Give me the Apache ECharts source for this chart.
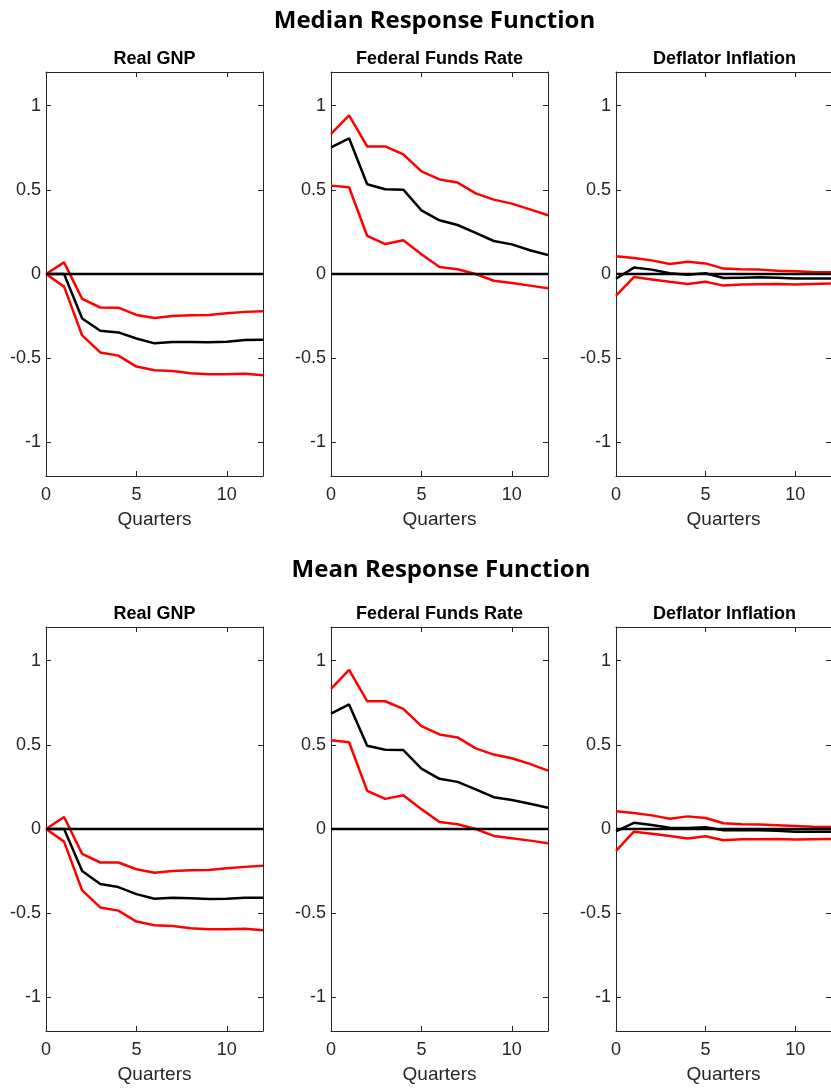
<!DOCTYPE html>
<html>
<head>
<meta charset="utf-8">
<script src="https://cdn.jsdelivr.net/npm/echarts@6/dist/echarts.min.js"></script>
<style>
	html, body { margin: 0; padding: 0; background: #fff; }
	#chart { width: 831px; height: 1089px; }
</style>
</head>
<body>
<div id="chart"></div>
<script>
var quarters = [0, 1, 2, 3, 4, 5, 6, 7, 8, 9, 10, 11, 12];
var xTicks = [0, 5, 10];
var yTicks = [-1, -0.5, 0, 0.5, 1];
var panelTitles = ["Real GNP", "Federal Funds Rate", "Deflator Inflation"];
var sectionTitles = ["Median Response Function", "Mean Response Function"];
var zeroLine = [0, 0, 0, 0, 0, 0, 0, 0, 0, 0, 0, 0, 0];

// median response
var medGnp = [0, 0, -0.264, -0.337, -0.347, -0.383, -0.412, -0.404, -0.404, -0.406, -0.402, -0.392, -0.39];
var medGnpUp = [0, 0.069, -0.148, -0.199, -0.2, -0.243, -0.262, -0.25, -0.245, -0.243, -0.233, -0.225, -0.221];
var medGnpLo = [0, -0.075, -0.365, -0.466, -0.485, -0.55, -0.572, -0.576, -0.59, -0.596, -0.596, -0.592, -0.602];
var medFfr = [0.752, 0.806, 0.533, 0.503, 0.501, 0.378, 0.319, 0.291, 0.244, 0.196, 0.176, 0.141, 0.113];
var medFfrUp = [0.832, 0.943, 0.758, 0.758, 0.711, 0.61, 0.562, 0.543, 0.479, 0.442, 0.418, 0.384, 0.349];
var medFfrLo = [0.525, 0.515, 0.226, 0.178, 0.2, 0.117, 0.042, 0.028, 0, -0.04, -0.053, -0.069, -0.085];
var medInf = [-0.028, 0.038, 0.026, 0.004, -0.004, 0.004, -0.024, -0.022, -0.02, -0.022, -0.026, -0.026, -0.026];
var medInfUp = [0.105, 0.095, 0.081, 0.059, 0.073, 0.063, 0.032, 0.028, 0.026, 0.02, 0.016, 0.012, 0.01];
var medInfLo = [-0.129, -0.018, -0.032, -0.046, -0.059, -0.046, -0.069, -0.063, -0.061, -0.059, -0.063, -0.059, -0.057];

// mean response
var meanGnp = [0, 0, -0.25, -0.327, -0.345, -0.387, -0.414, -0.408, -0.412, -0.416, -0.414, -0.408, -0.408];
var meanGnpUp = [0, 0.071, -0.148, -0.199, -0.199, -0.239, -0.26, -0.25, -0.245, -0.243, -0.233, -0.225, -0.219];
var meanGnpLo = [0, -0.075, -0.365, -0.466, -0.485, -0.55, -0.572, -0.576, -0.59, -0.596, -0.596, -0.592, -0.602];
var meanFfr = [0.686, 0.74, 0.495, 0.471, 0.469, 0.359, 0.298, 0.28, 0.235, 0.189, 0.172, 0.15, 0.126];
var meanFfrUp = [0.832, 0.945, 0.759, 0.759, 0.714, 0.611, 0.562, 0.544, 0.479, 0.442, 0.42, 0.387, 0.347];
var meanFfrLo = [0.527, 0.515, 0.227, 0.179, 0.201, 0.118, 0.041, 0.028, 0, -0.041, -0.055, -0.069, -0.085];
var meanInf = [-0.014, 0.037, 0.024, 0.008, 0.006, 0.01, -0.008, -0.008, -0.008, -0.01, -0.016, -0.016, -0.016];
var meanInfUp = [0.105, 0.095, 0.081, 0.061, 0.075, 0.065, 0.034, 0.028, 0.026, 0.022, 0.018, 0.014, 0.012];
var meanInfLo = [-0.13, -0.016, -0.028, -0.041, -0.057, -0.043, -0.067, -0.061, -0.061, -0.059, -0.063, -0.061, -0.059];

var panels = [
	[medGnp, medGnpUp, medGnpLo], [medFfr, medFfrUp, medFfrLo], [medInf, medInfUp, medInfLo],
	[meanGnp, meanGnpUp, meanGnpLo], [meanFfr, meanFfrUp, meanFfrLo], [meanInf, meanInfUp, meanInfLo]
];

var colLeft = [46, 331, 616];
var rowTop = [72, 627];
var plotW = 217, plotH = 404;
var axisColor = "#262626";
var font = "'Liberation Sans', Arial, sans-serif";

function pairs(arr) {
	return quarters.map(function (q, i) { return [q, arr[i]]; });
}

var grids = [], xAxes = [], yAxes = [], series = [], graphics = [];

panels.forEach(function (p, gi) {
	var row = Math.floor(gi / 3), col = gi % 3;
	grids.push({ left: colLeft[col], top: rowTop[row], width: plotW, height: plotH });

	var tick = { inside: true, length: 5, lineStyle: { color: axisColor, width: 1 } };
	var line = { show: true, onZero: false, lineStyle: { color: axisColor, width: 1 } };

	xAxes.push({
		gridIndex: gi, type: "value", position: "bottom", min: 0, max: 12,
		axisLine: line, splitLine: { show: false },
		axisTick: Object.assign({ customValues: xTicks }, tick),
		axisLabel: { customValues: xTicks, color: axisColor, fontSize: 18, fontFamily: font, margin: 10 },
		name: "Quarters", nameLocation: "middle", nameGap: 34,
		nameTextStyle: { color: axisColor, fontSize: 19, fontFamily: font }
	});
	xAxes.push({
		gridIndex: gi, type: "value", position: "top", min: 0, max: 12,
		axisLine: line, splitLine: { show: false },
		axisTick: Object.assign({ customValues: xTicks }, tick),
		axisLabel: { show: false }
	});
	yAxes.push({
		gridIndex: gi, type: "value", position: "left", min: -1.2, max: 1.2,
		axisLine: line, splitLine: { show: false },
		axisTick: Object.assign({ customValues: yTicks }, tick),
		axisLabel: { customValues: yTicks, color: axisColor, fontSize: 18, fontFamily: font, margin: 5 }
	});
	yAxes.push({
		gridIndex: gi, type: "value", position: "right", min: -1.2, max: 1.2,
		axisLine: line, splitLine: { show: false },
		axisTick: Object.assign({ customValues: yTicks }, tick),
		axisLabel: { show: false }
	});

	var lines = [[p[0], "#000000"], [p[1], "#ff0000"], [p[2], "#ff0000"], [zeroLine, "#000000"]];
	lines.forEach(function (l, k) {
		series.push({
			type: "line", xAxisIndex: gi * 2, yAxisIndex: gi * 2,
			data: pairs(l[0]), symbol: "none", z: 2 + k,
			lineStyle: { color: l[1], width: 2.5 }, itemStyle: { color: l[1] }
		});
	});

	graphics.push({
		type: "text", x: colLeft[col] + plotW / 2, y: rowTop[row] - 13,
		style: {
			text: panelTitles[col], fill: "#000", font: "bold 18px " + font,
			textAlign: "center", textVerticalAlign: "middle"
		}
	});
});

graphics.push({
	type: "text", x: 434.5, y: 21,
	style: { text: sectionTitles[0], fill: "#000", font: "bold 24px 'Open Sans', sans-serif", textAlign: "center", textVerticalAlign: "middle" }
});
graphics.push({
	type: "text", x: 441, y: 570,
	style: { text: sectionTitles[1], fill: "#000", font: "bold 24px 'Open Sans', sans-serif", textAlign: "center", textVerticalAlign: "middle" }
});

var chart = echarts.init(document.getElementById("chart"));
chart.setOption({
	animation: false,
	backgroundColor: "#ffffff",
	grid: grids,
	xAxis: xAxes,
	yAxis: yAxes,
	series: series,
	graphic: graphics
});
</script>
</body>
</html>
